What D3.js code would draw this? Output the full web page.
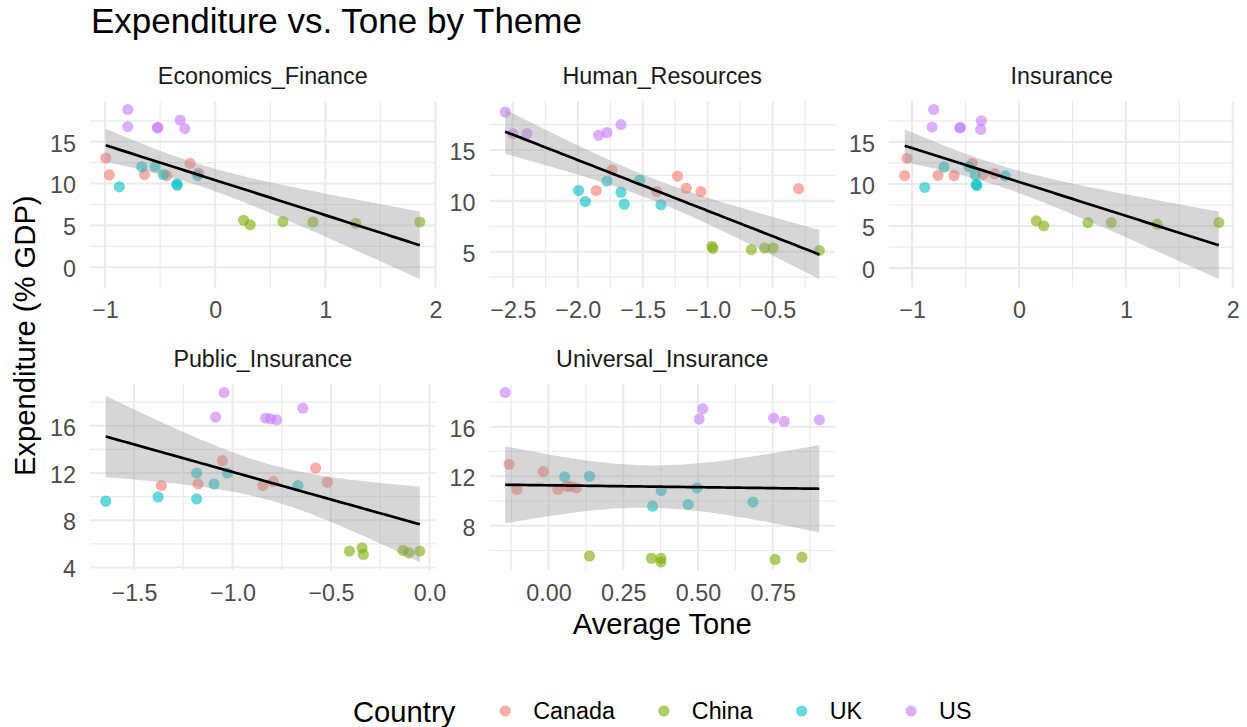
<!DOCTYPE html>
<html>
<head>
<meta charset="utf-8">
<script src="https://cdn.jsdelivr.net/npm/d3@7"></script>
<style>
  html, body { margin: 0; padding: 0; background: #ffffff; }
  svg text { font-family: "Liberation Sans", Arial, Helvetica, sans-serif; }
</style>
</head>
<body>
<svg id="chart" width="1247" height="727"></svg>
<script>
// ---- data -------------------------------------------------------------
const themes = ["Economics_Finance", "Human_Resources", "Insurance", "Public_Insurance", "Universal_Insurance"];
const countries = ["Canada", "China", "UK", "US"];

// [country, average tone, expenditure (% GDP)]
const economicsFinance = [
  ["US", -0.794, 18.85], ["US", -0.794, 16.80], ["US", -0.520, 16.70], ["US", -0.525, 16.66], ["US", -0.318, 17.59], ["US", -0.276, 16.56],
  ["Canada", -0.994, 13.04], ["Canada", -0.961, 11.03], ["Canada", -0.642, 11.07], ["Canada", -0.440, 10.95], ["Canada", -0.227, 12.41], ["Canada", -0.152, 11.26],
  ["UK", -0.870, 9.60], ["UK", -0.667, 12.00], ["UK", -0.545, 12.00], ["UK", -0.470, 11.07], ["UK", -0.348, 9.96], ["UK", -0.345, 9.80], ["UK", -0.158, 10.95],
  ["China", 0.258, 5.61], ["China", 0.318, 5.06], ["China", 0.615, 5.45], ["China", 0.888, 5.41], ["China", 1.276, 5.26], ["China", 1.858, 5.41]
];
const humanResources = [
  ["US", -2.559, 18.73], ["US", -2.500, 16.61], ["US", -2.392, 16.61], ["US", -1.840, 16.45], ["US", -1.776, 16.71], ["US", -1.668, 17.49],
  ["Canada", -1.737, 13.03], ["Canada", -1.858, 11.01], ["Canada", -1.391, 10.91], ["Canada", -1.232, 12.44], ["Canada", -1.165, 11.24], ["Canada", -1.052, 10.91], ["Canada", -0.300, 11.20],
  ["UK", -1.994, 11.01], ["UK", -1.943, 9.93], ["UK", -1.776, 11.95], ["UK", -1.668, 10.85], ["UK", -1.643, 9.67], ["UK", -1.524, 12.02], ["UK", -1.360, 9.61],
  ["China", -0.967, 5.54], ["China", -0.960, 5.31], ["China", -0.664, 5.21], ["China", -0.562, 5.37], ["China", -0.497, 5.37], ["China", -0.141, 5.11]
];
const insurance = [
  ["US", -0.798, 18.85], ["US", -0.813, 16.76], ["US", -0.548, 16.70], ["US", -0.554, 16.66], ["US", -0.352, 17.51], ["US", -0.358, 16.48],
  ["Canada", -1.047, 13.04], ["Canada", -1.069, 10.99], ["Canada", -0.757, 11.03], ["Canada", -0.607, 10.99], ["Canada", -0.439, 12.45], ["Canada", -0.336, 11.15], ["Canada", -0.227, 11.23],
  ["UK", -0.882, 9.60], ["UK", -0.701, 12.02], ["UK", -0.467, 12.06], ["UK", -0.408, 11.07], ["UK", -0.399, 9.95], ["UK", -0.395, 9.80], ["UK", -0.128, 10.95],
  ["China", 0.162, 5.61], ["China", 0.231, 5.02], ["China", 0.645, 5.41], ["China", 0.863, 5.41], ["China", 1.293, 5.22], ["China", 1.869, 5.41]
];
const publicInsurance = [
  ["US", -1.043, 18.82], ["US", -1.086, 16.73], ["US", -0.832, 16.65], ["US", -0.807, 16.59], ["US", -0.776, 16.51], ["US", -0.643, 17.49],
  ["Canada", -1.361, 10.93], ["Canada", -1.175, 11.07], ["Canada", -1.052, 13.04], ["Canada", -0.846, 10.93], ["Canada", -0.793, 11.27], ["Canada", -0.578, 12.42], ["Canada", -0.519, 11.21],
  ["UK", -1.644, 9.61], ["UK", -1.378, 9.97], ["UK", -1.182, 12.00], ["UK", -1.182, 9.80], ["UK", -1.094, 11.07], ["UK", -1.026, 12.00], ["UK", -0.668, 10.93],
  ["China", -0.406, 5.38], ["China", -0.342, 5.66], ["China", -0.336, 5.10], ["China", -0.134, 5.44], ["China", -0.105, 5.24], ["China", -0.049, 5.38]
];
const universalInsurance = [
  ["US", -0.145, 18.77], ["US", 0.516, 17.45], ["US", 0.504, 16.62], ["US", 0.753, 16.70], ["US", 0.789, 16.43], ["US", 0.906, 16.56],
  ["Canada", -0.132, 12.97], ["Canada", -0.106, 10.93], ["Canada", -0.017, 12.38], ["Canada", 0.031, 10.93], ["Canada", 0.061, 11.19], ["Canada", 0.073, 11.19], ["Canada", 0.093, 11.06],
  ["UK", 0.054, 11.95], ["UK", 0.137, 12.00], ["UK", 0.348, 9.58], ["UK", 0.377, 10.85], ["UK", 0.467, 9.72], ["UK", 0.497, 11.06], ["UK", 0.684, 9.91],
  ["China", 0.137, 5.56], ["China", 0.344, 5.37], ["China", 0.376, 5.37], ["China", 0.376, 5.07], ["China", 0.758, 5.28], ["China", 0.848, 5.46]
];

// tick breaks per panel
const econXTicks = [-1, 0, 1, 2],             econYTicks = [0, 5, 10, 15];
const hrXTicks   = [-2.5, -2, -1.5, -1, -0.5], hrYTicks   = [5, 10, 15];
const insXTicks  = [-1, 0, 1, 2],             insYTicks  = [0, 5, 10, 15];
const pubXTicks  = [-1.5, -1, -0.5, 0],       pubYTicks  = [4, 8, 12, 16];
const uniXTicks  = [0, 0.25, 0.5, 0.75],      uniYTicks  = [8, 12, 16];
const xTickFormats = [".0f", ".1f", ".0f", ".1f", ".2f"];

const panelData = [economicsFinance, humanResources, insurance, publicInsurance, universalInsurance];
const panelXTicks = [econXTicks, hrXTicks, insXTicks, pubXTicks, uniXTicks];
const panelYTicks = [econYTicks, hrYTicks, insYTicks, pubYTicks, uniYTicks];

// ---- layout -----------------------------------------------------------
const colLeft = [90, 489.5, 889];
const rowTop = [101, 384];
const panelW = 345.5, panelH = 186.5;
const fsBase = 29.2, fsSmall = 23.3, fsTitle = 35;
const tickGrey = "#4D4D4D";
const FONT = '"Liberation Sans", Arial, Helvetica, sans-serif';

const colour = d3.scaleOrdinal()
  .domain(countries)
  .range(["#F8766D", "#7CAE00", "#00BFC4", "#C77CFF"]);

const svg = d3.select("#chart");

// ---- linear model with 95% confidence band ------------------------------
function tQuantile975(df) {
  const z = 1.959963985;
  const z3 = z * z * z, z5 = z3 * z * z, z7 = z5 * z * z;
  return z + (z3 + z) / (4 * df)
    + (5 * z5 + 16 * z3 + 3 * z) / (96 * df * df)
    + (3 * z7 + 19 * z5 + 17 * z3 - 15 * z) / (384 * df * df * df);
}

function fitLm(pts) {
  const n = pts.length;
  const xbar = d3.mean(pts, d => d.x), ybar = d3.mean(pts, d => d.y);
  const sxx = d3.sum(pts, d => (d.x - xbar) ** 2);
  const sxy = d3.sum(pts, d => (d.x - xbar) * (d.y - ybar));
  const b = sxy / sxx, a = ybar - b * xbar;
  const sse = d3.sum(pts, d => (d.y - a - b * d.x) ** 2);
  const s = Math.sqrt(sse / (n - 2));
  const t = tQuantile975(n - 2);
  const [lo, hi] = d3.extent(pts, d => d.x);
  return d3.range(80).map(k => {
    const x = lo + (hi - lo) * k / 79;
    const yhat = a + b * x;
    const se = s * Math.sqrt(1 / n + (x - xbar) ** 2 / sxx);
    return { x, y: yhat, lo: yhat - t * se, hi: yhat + t * se };
  });
}

function minorBreaks(major, domain) {
  const step = major[1] - major[0];
  const ext = [major[0] - step].concat(major, [major[major.length - 1] + step]);
  const out = [];
  for (let i = 0; i < ext.length - 1; i++) {
    const m = (ext[i] + ext[i + 1]) / 2;
    if (m >= domain[0] && m <= domain[1]) out.push(m);
  }
  return out;
}

// ---- panels -------------------------------------------------------------
themes.forEach((theme, i) => {
  const col = i % 3, row = Math.floor(i / 3);
  const x0 = colLeft[col], y0 = rowTop[row];
  const pts = panelData[i].map(d => ({ country: d[0], x: d[1], y: d[2] }));
  const band = fitLm(pts);

  const xExt = d3.extent(pts, d => d.x);
  const yMin = Math.min(d3.min(pts, d => d.y), d3.min(band, d => d.lo));
  const yMax = Math.max(d3.max(pts, d => d.y), d3.max(band, d => d.hi));
  const xPad = (xExt[1] - xExt[0]) * 0.05, yPad = (yMax - yMin) * 0.05;

  const xs = d3.scaleLinear().domain([xExt[0] - xPad, xExt[1] + xPad]).range([x0, x0 + panelW]);
  const ys = d3.scaleLinear().domain([yMin - yPad, yMax + yPad]).range([y0 + panelH, y0]);

  const g = svg.append("g").attr("class", "panel");
  const xMajor = panelXTicks[i], yMajor = panelYTicks[i];

  // grid: minor then major
  g.selectAll(".vminor").data(minorBreaks(xMajor, xs.domain())).join("line")
    .attr("x1", d => xs(d)).attr("x2", d => xs(d)).attr("y1", y0).attr("y2", y0 + panelH)
    .attr("stroke", "#EBEBEB").attr("stroke-width", 1.2);
  g.selectAll(".hminor").data(minorBreaks(yMajor, ys.domain())).join("line")
    .attr("y1", d => ys(d)).attr("y2", d => ys(d)).attr("x1", x0).attr("x2", x0 + panelW)
    .attr("stroke", "#EBEBEB").attr("stroke-width", 1.2);
  g.selectAll(".vmajor").data(xMajor).join("line")
    .attr("x1", d => xs(d)).attr("x2", d => xs(d)).attr("y1", y0).attr("y2", y0 + panelH)
    .attr("stroke", "#EBEBEB").attr("stroke-width", 2.1);
  g.selectAll(".hmajor").data(yMajor).join("line")
    .attr("y1", d => ys(d)).attr("y2", d => ys(d)).attr("x1", x0).attr("x2", x0 + panelW)
    .attr("stroke", "#EBEBEB").attr("stroke-width", 2.1);

  // axes (labels only)
  const xAxis = d3.axisBottom(xs).tickValues(xMajor).tickFormat(d3.format(xTickFormats[i])).tickSize(0).tickPadding(0);
  const ax = svg.append("g").attr("transform", `translate(0,${y0 + panelH})`).call(xAxis);
  ax.select(".domain").remove();
  ax.selectAll("text").attr("y", 30.5).attr("dy", null)
    .attr("fill", tickGrey).style("font-size", fsSmall + "px").style("font-family", FONT);

  const yAxis = d3.axisLeft(ys).tickValues(yMajor).tickFormat(d3.format("d")).tickSize(0).tickPadding(0);
  const ay = svg.append("g").attr("transform", `translate(${x0},0)`).call(yAxis);
  ay.select(".domain").remove();
  ay.selectAll("text").attr("x", -14).attr("dy", null).attr("y", 0.36 * fsSmall + 1)
    .attr("fill", tickGrey).style("font-size", fsSmall + "px").style("font-family", FONT);

  // points
  g.selectAll("circle").data(pts).join("circle")
    .attr("cx", d => xs(d.x)).attr("cy", d => ys(d.y)).attr("r", 5.6)
    .attr("fill", d => colour(d.country)).attr("fill-opacity", 0.6);

  // confidence band and fitted line
  g.append("path").datum(band)
    .attr("d", d3.area().x(d => xs(d.x)).y0(d => ys(d.lo)).y1(d => ys(d.hi)))
    .attr("fill", "#999999").attr("fill-opacity", 0.4);
  g.append("path").datum(band)
    .attr("d", d3.line().x(d => xs(d.x)).y(d => ys(d.y)))
    .attr("fill", "none").attr("stroke", "#000000").attr("stroke-width", 2.7);

  // strip label
  svg.append("text")
    .attr("x", x0 + panelW / 2).attr("y", y0 - 17.5)
    .attr("text-anchor", "middle").attr("fill", "#1A1A1A")
    .style("font-size", fsSmall + "px")
    .text(theme);
});

// ---- titles ----------------------------------------------------------------
svg.append("text").attr("x", 91).attr("y", 33)
  .attr("fill", "#000").style("font-size", fsTitle + "px")
  .text("Expenditure vs. Tone by Theme");

const plotCentreX = (colLeft[0] + colLeft[2] + panelW) / 2;
svg.append("text").attr("x", plotCentreX).attr("y", 634)
  .attr("text-anchor", "middle").attr("fill", "#000").style("font-size", fsBase + "px")
  .text("Average Tone");

svg.append("text")
  .attr("transform", `translate(35,${(rowTop[0] + rowTop[1] + panelH) / 2}) rotate(-90)`)
  .attr("text-anchor", "middle").attr("fill", "#000").style("font-size", fsBase + "px")
  .text("Expenditure (% GDP)");

// ---- legend ----------------------------------------------------------------
const legendY = 711;
const itemGap = 49, keyToLabel = 28;
const legend = svg.append("g");
const legTitle = legend.append("text").attr("x", 0).attr("y", legendY + 10.5)
  .attr("fill", "#000").style("font-size", fsBase + "px").text("Country");
let cursor = legTitle.node().getComputedTextLength() + 50;
countries.forEach(c => {
  legend.append("circle").attr("cx", cursor).attr("cy", legendY).attr("r", 5.6)
    .attr("fill", colour(c)).attr("fill-opacity", 0.6);
  const t = legend.append("text").attr("x", cursor + keyToLabel).attr("y", legendY + 8.3)
    .attr("fill", "#000").style("font-size", fsSmall + "px").text(c);
  cursor += keyToLabel + t.node().getComputedTextLength() + itemGap;
});
const legendWidth = cursor - itemGap;
legend.attr("transform", `translate(${plotCentreX - legendWidth / 2},0)`);
</script>
</body>
</html>
